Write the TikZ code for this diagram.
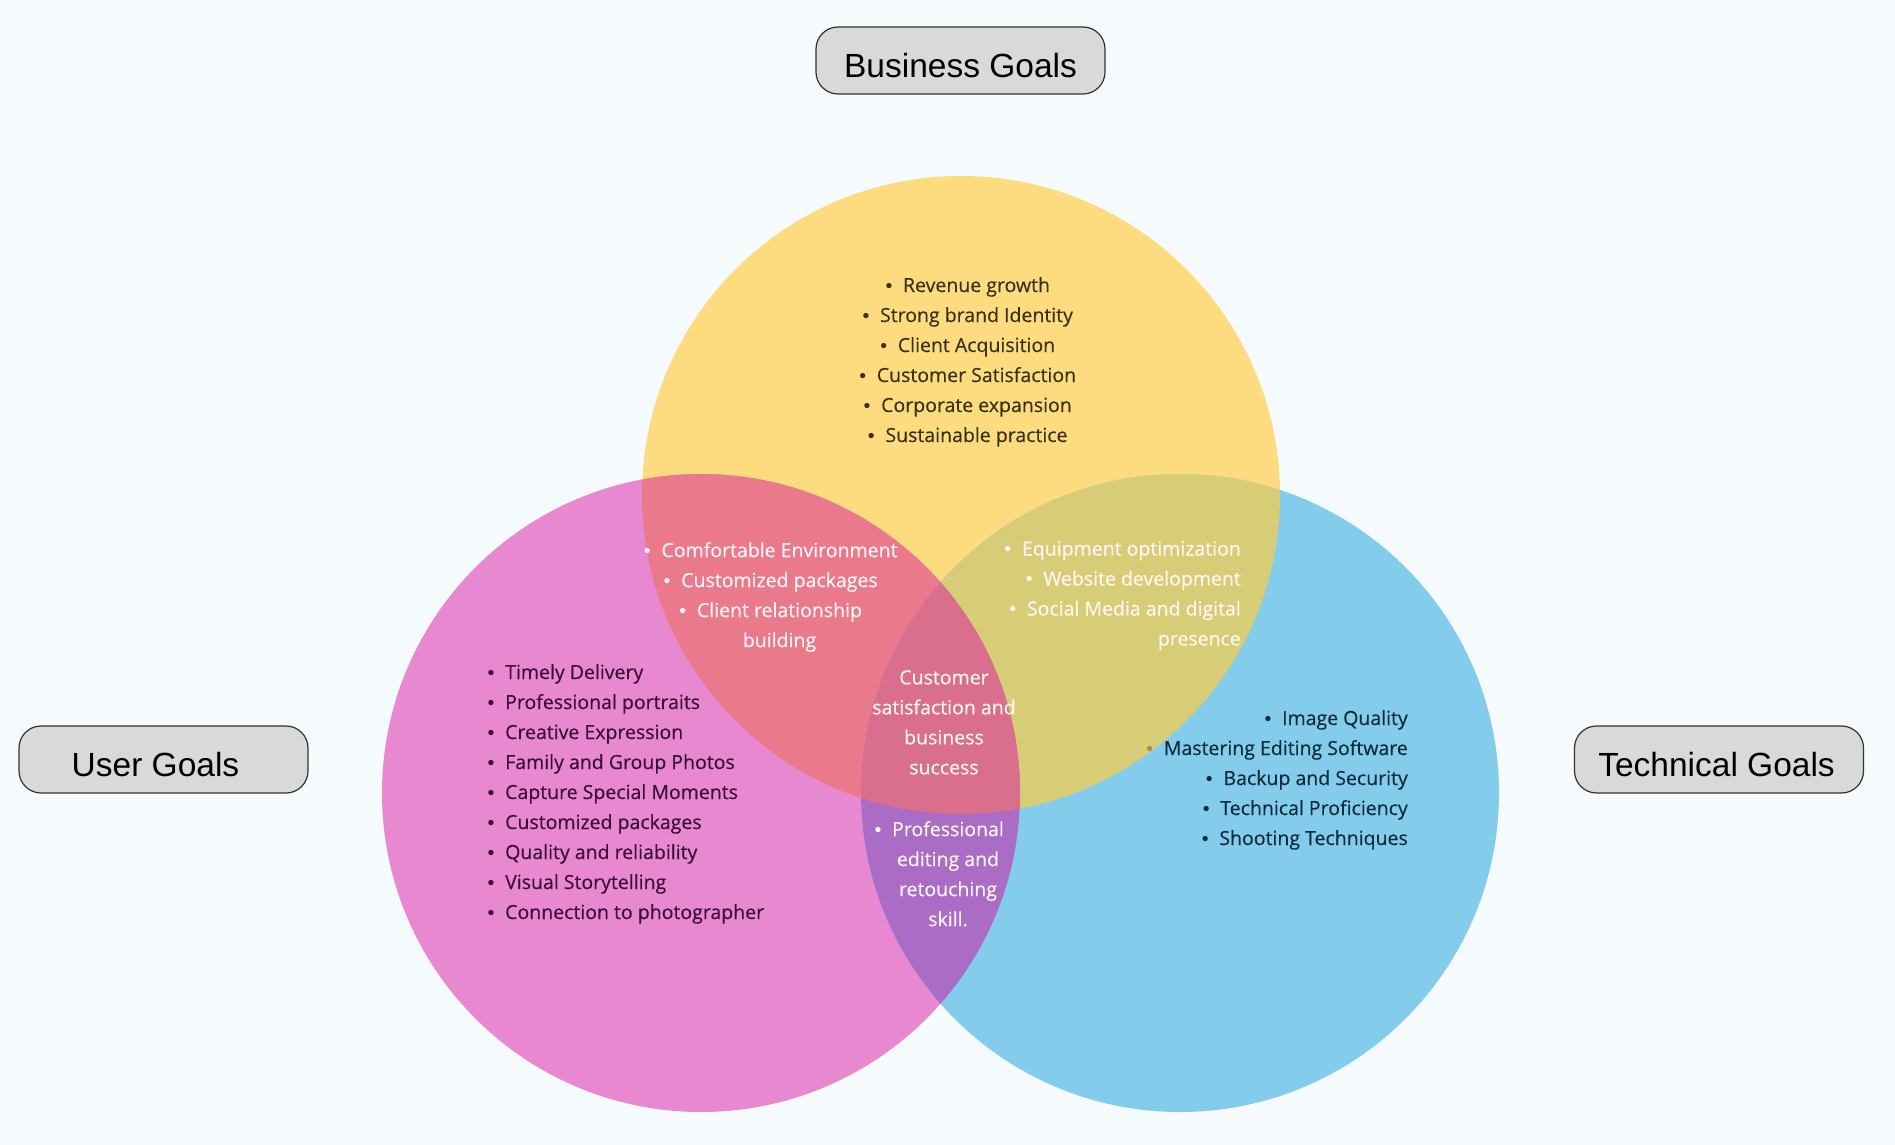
\documentclass[tikz,border=0pt]{standalone}
\usepackage{fontspec}
\setmainfont{Open Sans}[FakeBold=0.35]
\newfontfamily\labelfont{Liberation Sans}
\definecolor{bgc}{HTML}{F5FAFD}
\definecolor{yc}{HTML}{FDDC7F}
\definecolor{pc}{HTML}{E888D0}
\definecolor{bc}{HTML}{83CCEC}
\definecolor{pyc}{HTML}{EB798C}
\definecolor{ybc}{HTML}{D7CD77}
\definecolor{pbc}{HTML}{AB6CC5}
\definecolor{allc}{HTML}{DA6E8D}
\definecolor{ytext}{HTML}{3B3014}
\definecolor{ptext}{HTML}{3A0F36}
\definecolor{btext}{HTML}{0D2B3D}
\definecolor{wtext}{HTML}{FFF7F5}
\definecolor{boxfill}{HTML}{D9D9D9}
\definecolor{boxline}{HTML}{333333}
\definecolor{goldbul}{HTML}{A88F45}
\newcommand{\bul}{\llap{{\labelfont\textbullet}\hspace{0.55em}}}
\newcommand{\gbul}{\llap{\textcolor{goldbul}{\labelfont\textbullet}\hspace{0.55em}}}
\newcommand{\shiftx}[2]{\hbox{\kern#1#2\kern-#1}}
\tikzset{
  goalbox/.style={draw=boxline, fill=boxfill, rounded corners=22pt, line width=1.2pt,
    font=\labelfont\fontsize{33.5}{40}\selectfont, inner sep=0, minimum width=289pt, minimum height=67pt,
    text height=34pt, text depth=0pt},
  venn/.style={circle, inner sep=0, minimum size=638pt},
  lst/.style={inner sep=0, font=\fontsize{19.5}{30}\selectfont},
}
\begin{document}
\begin{tikzpicture}[x=1pt,y=-1pt]
\useasboundingbox (0,0) rectangle (1895,1145);
\fill[bgc] (0,0) rectangle (1895,1145);
\coordinate (Y) at (961,495);
\coordinate (P) at (701,793);
\coordinate (B) at (1180,793);
% circles
\node[venn, fill=yc] (ycirc) at (Y) {};
\node[venn, fill=pc] (pcirc) at (P) {};
\node[venn, fill=bc] (bcirc) at (B) {};
% pairwise intersections
\begin{scope}
  \clip (Y) circle[radius=319pt];
  \fill[pyc] (P) circle[radius=319pt];
\end{scope}
\begin{scope}
  \clip (Y) circle[radius=319pt];
  \fill[ybc] (B) circle[radius=319pt];
\end{scope}
\begin{scope}
  \clip (P) circle[radius=319pt];
  \fill[pbc] (B) circle[radius=319pt];
\end{scope}
\begin{scope}
  \clip (P) circle[radius=319pt];
  \clip (B) circle[radius=319pt];
  \fill[allc] (Y) circle[radius=319pt];
\end{scope}
% goal labels
\node[goalbox] (business) at (960.5,60.5) {Business Goals};
\node[goalbox] (user) at (163.5,759.5) {\shiftx{-8pt}{User Goals}};
\node[goalbox] (technical) at (1719,759.5) {\shiftx{-2.5pt}{Technical Goals}};
% business list
\node[lst, text=ytext, align=center, anchor=north] (blist) at (976.5,277) {%
\bul Revenue growth\\ \bul Strong brand Identity\\ \bul Client Acquisition\\
\bul Customer Satisfaction\\ \bul Corporate expansion\\ \bul Sustainable practice};
% user list
\node[lst, text=ptext, align=left, anchor=north west] (ulist) at (505,664) {%
\bul Timely Delivery\\ \bul Professional portraits\\ \bul Creative Expression\\
\bul Family and Group Photos\\ \bul Capture Special Moments\\ \bul Customized packages\\
\bul Quality and reliability\\ \bul Visual Storytelling\\ \bul Connection to photographer};
% technical list
\node[lst, text=btext, align=right, anchor=north east] (tlist) at (1408,710) {%
\bul Image Quality\\ \gbul Mastering Editing Software\\ \bul Backup and Security\\
\bul Technical Proficiency\\ \bul Shooting Techniques};
% user & business
\node[lst, text=wtext, align=center, anchor=north] (ublist) at (779.5,542) {%
\bul Comfortable Environment\\ \bul Customized packages\\ \bul Client relationship\\ building};
% business & technical
\node[lst, text=wtext, align=right, anchor=north east] (btlist) at (1241,541) {%
\bul Equipment optimization\\ \bul Website development\\ \bul Social Media and digital\\ presence};
% all three
\node[lst, text=wtext, align=center, anchor=north] (alllist) at (944,670) {%
Customer\\ satisfaction and\\ business\\ success};
% user & technical
\node[lst, text=wtext, align=center, anchor=north] (utlist) at (948,821) {%
\bul Professional\\ editing and\\ retouching\\ skill.};
\end{tikzpicture}
\end{document}
